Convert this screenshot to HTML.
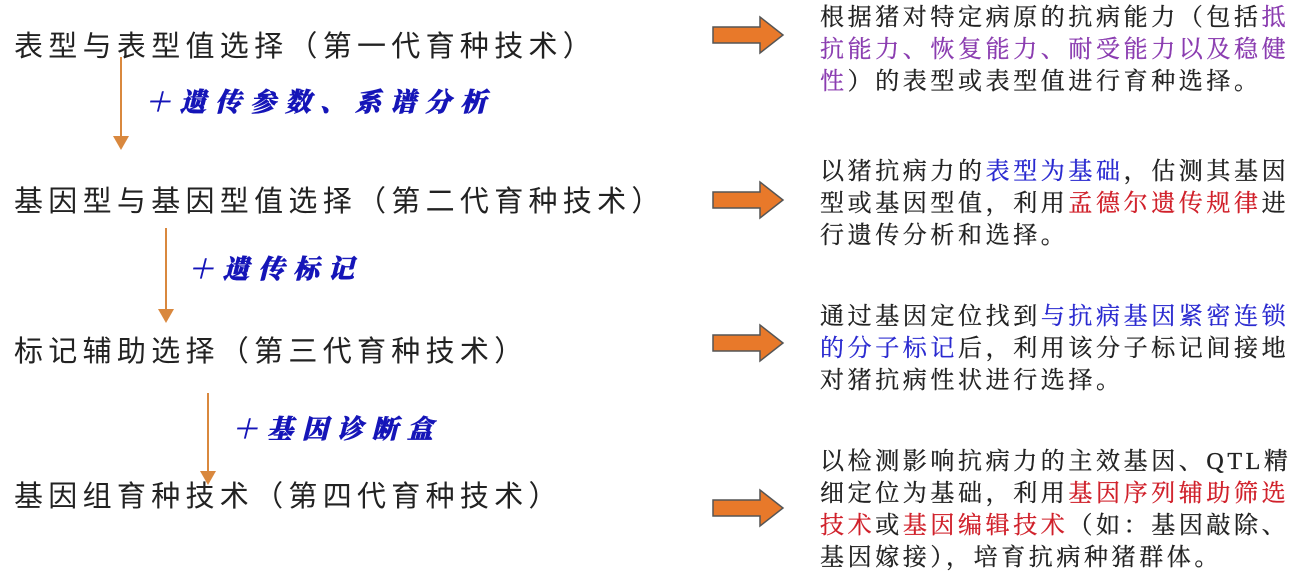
<!DOCTYPE html>
<html><head><meta charset="utf-8"><style>
body{margin:0;width:1297px;height:565px;background:#fff;position:relative;overflow:hidden}
.h{position:absolute;left:14px;font-family:"Liberation Sans","Noto Sans CJK SC",sans-serif;font-size:29px;letter-spacing:5.3px;color:#222;white-space:nowrap;line-height:34px}
.l{position:absolute;font-family:"Liberation Serif","Noto Serif CJK SC",serif;font-size:26px;font-weight:900;font-style:italic;letter-spacing:9px;color:#1515b8;white-space:nowrap;line-height:30px;-webkit-text-stroke:0.6px #1515b8}
.r{position:absolute;left:820px;width:480px;font-family:"Liberation Serif","Noto Serif CJK SC",serif;font-size:24px;letter-spacing:3.6px;color:#222;line-height:32px;white-space:nowrap;-webkit-text-stroke:0.3px currentColor}
.p{color:#8a3cb0}.b{color:#2a2ad0}.d{color:#d0202a}
.v{position:absolute;width:2px;background:#d9883e}
.t{position:absolute;width:0;height:0;border-left:8px solid transparent;border-right:8px solid transparent;border-top:14px solid #d9883e}
</style></head><body>
<div class="h" style="top:30px">表型与表型值选择（第一代育种技术）</div>
<div class="h" style="top:185px">基因型与基因型值选择（第二代育种技术）</div>
<div class="h" style="top:335px">标记辅助选择（第三代育种技术）</div>
<div class="h" style="top:480px">基因组育种技术（第四代育种技术）</div>

<div class="v" style="left:120px;top:57px;height:83px"></div><div class="t" style="left:113px;top:136px"></div>
<div class="v" style="left:165px;top:228px;height:85px"></div><div class="t" style="left:158px;top:309px"></div>
<div class="v" style="left:207px;top:393px;height:82px"></div><div class="t" style="left:200px;top:471px"></div>

<div class="l" style="left:145px;top:88px">＋遗传参数、系谱分析</div>
<div class="l" style="left:188px;top:255px">＋遗传标记</div>
<div class="l" style="left:232px;top:415px">＋基因诊断盒</div>

<svg style="position:absolute;left:0;top:0" width="1297" height="565">
<g fill="#e8792a" stroke="#555" stroke-width="1.5">
<polygon points="713,27 760,27 760,17 783,35 760,53 760,43 713,43"/>
<polygon points="713,192 760,192 760,182 783,200 760,218 760,208 713,208"/>
<polygon points="713,335 760,335 760,325 783,343 760,361 760,351 713,351"/>
<polygon points="713,500 760,500 760,490 783,508 760,526 760,516 713,516"/>
</g></svg>

<div class="r" style="top:2px">根据猪对特定病原的抗病能力（包括<span class="p">抵</span><br><span class="p">抗能力、恢复能力、耐受能力以及稳健</span><br><span class="p">性</span>）的表型或表型值进行育种选择。</div>
<div class="r" style="top:156px">以猪抗病力的<span class="b">表型为基础</span>，估测其基因<br>型或基因型值，利用<span class="d">孟德尔遗传规律</span>进<br>行遗传分析和选择。</div>
<div class="r" style="top:301px">通过基因定位找到<span class="b">与抗病基因紧密连锁</span><br><span class="b">的分子标记</span>后，利用该分子标记间接地<br>对猪抗病性状进行选择。</div>
<div class="r" style="top:446px">以检测影响抗病力的主效基因、QTL精<br>细定位为基础，利用<span class="d">基因序列辅助筛选</span><br><span class="d">技术</span>或<span class="d">基因编辑技术</span>（如：基因敲除、<br>基因嫁接），培育抗病种猪群体。</div>
</body></html>
